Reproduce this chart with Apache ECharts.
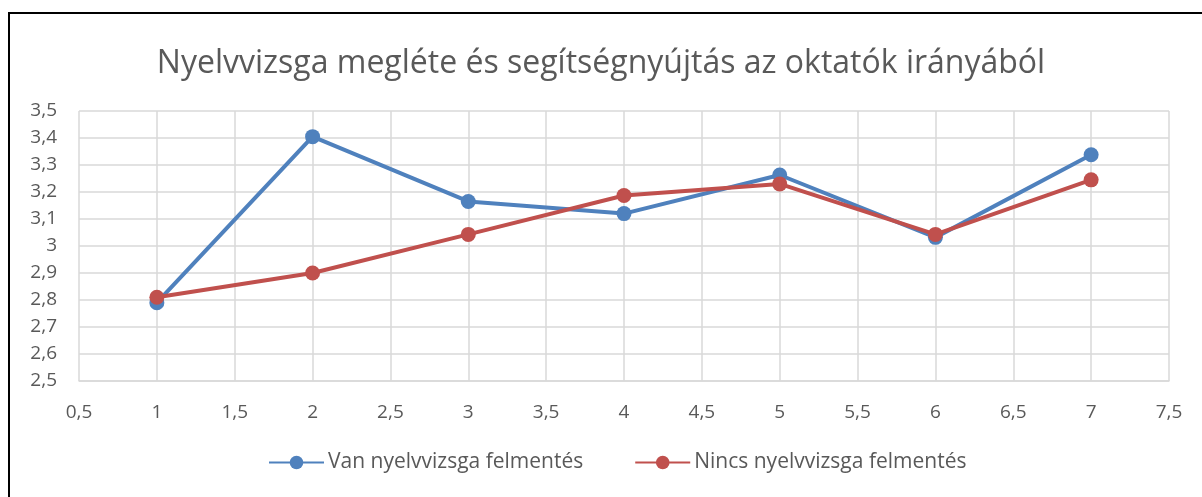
<!DOCTYPE html>
<html>
<head>
<meta charset="utf-8">
<script src="https://cdn.jsdelivr.net/npm/echarts@6/dist/echarts.min.js"></script>
<style>
html,body{margin:0;padding:0;background:#fff;}
#chart{width:1202px;height:497px;}
</style>
</head>
<body>
<div id="chart"></div>
<script>
const titleText = 'Nyelvvizsga megléte és segítségnyújtás az oktatók irányából';
const xValues = [1, 2, 3, 4, 5, 6, 7];
const seriesNames = ['Van nyelvvizsga felmentés', 'Nincs nyelvvizsga felmentés'];
const vanValues = [2.79, 3.405, 3.165, 3.12, 3.263, 3.032, 3.338];
const nincsValues = [2.81, 2.9, 3.043, 3.187, 3.23, 3.043, 3.245];

const fmt = v => String(Math.round(v * 10) / 10).replace('.', ',');
const font = '"Open Sans", sans-serif';

const chart = echarts.init(document.getElementById('chart'), null, {renderer: 'canvas'});
chart.setOption({
  backgroundColor: '#fff',
  animation: false,
  title: {
    text: titleText,
    left: 'center',
    top: 43,
    textStyle: {fontFamily: font, fontSize: 32, fontWeight: 'normal', color: '#595959'}
  },
  legend: {
    top: 452,
    left: 268,
    padding: 0,
    itemGap: 51,
    itemWidth: 55,
    itemHeight: 17,
    textStyle: {fontFamily: font, fontSize: 21, color: '#595959', padding: [0, 0, 0, -1]},
    data: seriesNames
  },
  grid: {left: 79, right: 33, top: 111, bottom: 116, containLabel: false},
  xAxis: {
    type: 'value',
    min: 0.5, max: 7.5, interval: 0.5,
    axisLine: {show: true, lineStyle: {color: '#d9d9d9', width: 1.5}},
    axisTick: {show: false},
    splitLine: {show: true, lineStyle: {color: '#d9d9d9', width: 1.5}},
    axisLabel: {formatter: fmt, fontFamily: font, fontSize: 19, color: '#595959', margin: 22}
  },
  yAxis: {
    type: 'value',
    min: 2.5, max: 3.5, interval: 0.1,
    axisLine: {show: false},
    axisTick: {show: false},
    splitLine: {show: true, lineStyle: {color: '#d9d9d9', width: 1.5}},
    axisLabel: {formatter: fmt, fontFamily: font, fontSize: 19, color: '#595959', margin: 22}
  },
  series: [
    {
      name: seriesNames[0], type: 'line',
      data: xValues.map((x, i) => [x, vanValues[i]]),
      symbol: 'circle', symbolSize: 15,
      lineStyle: {width: 4, color: '#4f81bd'},
      itemStyle: {color: '#4f81bd'}
    },
    {
      name: seriesNames[1], type: 'line',
      data: xValues.map((x, i) => [x, nincsValues[i]]),
      symbol: 'circle', symbolSize: 15,
      lineStyle: {width: 4, color: '#c0504d'},
      itemStyle: {color: '#c0504d'}
    }
  ],
  graphic: [
    {type: 'line', shape: {x1: 9, y1: 13, x2: 1202, y2: 13}, style: {stroke: '#000', lineWidth: 2}},
    {type: 'line', shape: {x1: 9, y1: 12, x2: 9, y2: 497}, style: {stroke: '#000', lineWidth: 2}}
  ]
});
</script>
</body>
</html>
